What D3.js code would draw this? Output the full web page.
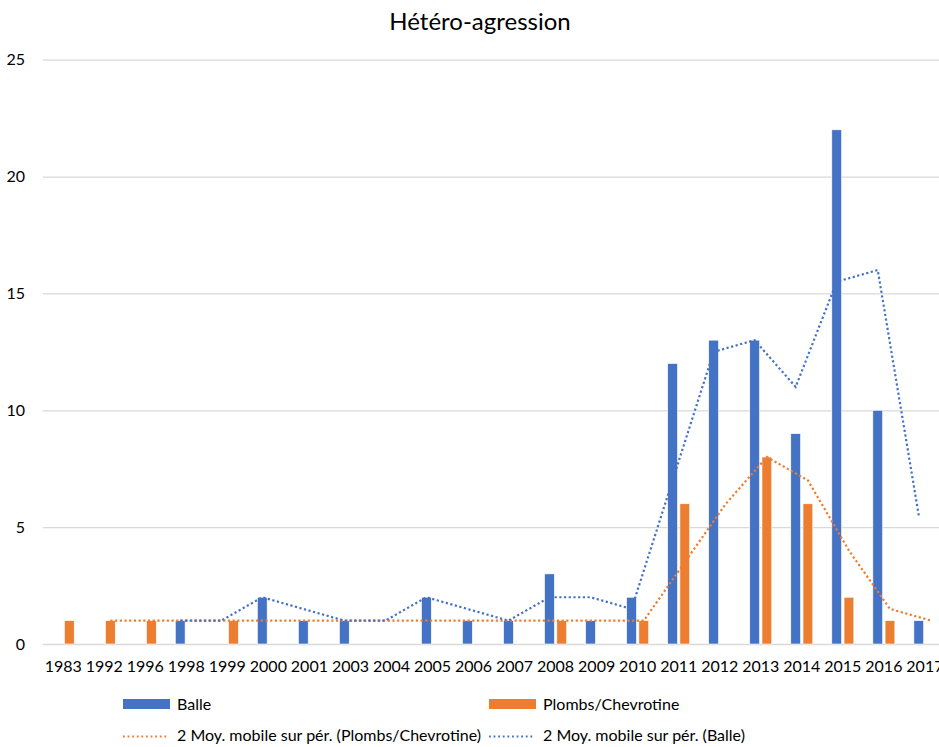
<!DOCTYPE html>
<html>
<head>
<meta charset="utf-8">
<script src="https://cdn.jsdelivr.net/npm/d3@7"></script>
<style>
  body { margin: 0; background: #fff; }
  svg { display: block; font-family: Lato, "Open Sans", sans-serif; }
</style>
</head>
<body>
<script>
// categories (years) as in the spreadsheet
var years = ["1983", "1992", "1996", "1998", "1999", "2000", "2001", "2003", "2004", "2005", "2006",
    "2007", "2008", "2009", "2010", "2011", "2012", "2013", "2014", "2015", "2016", "2017"];

// counts, null = empty cell
var balle = [null, null, null, 1, null, 2, 1, 1, null, 2, 1, 1, 3, 1, 2, 12, 13, 13, 9, 22, 10, 1];
var plombs = [1, 1, 1, null, 1, null, null, null, null, null, null, null, 1, null, 1, 6, null, 8, 6, 2, 1, null];

// 2-period moving average trendlines
var maBalle = [null, null, null, 1, 1, 2, 1.5, 1, 1, 2, 1.5, 1, 2, 2, 1.5, 7, 12.5, 13, 11, 15.5, 16, 5.5];
var maPlombs = [null, 1, 1, 1, 1, 1, 1, 1, 1, 1, 1, 1, 1, 1, 1, 3.5, 6, 8, 7, 4, 1.5, 1];

var yTicks = [0, 5, 10, 15, 20, 25];

var blue = "#4472C4", orange = "#ED7D31";

var width = 939, height = 747;
var svg = d3.select("body").append("svg").attr("width", width).attr("height", height);

var x = d3.scaleBand().domain(years).range([42.7, 945.4]).padding(0);
var x1 = d3.scaleBand().domain(["balle", "plombs"])
    .range([x.bandwidth() / 2 - 11, x.bandwidth() / 2 + 11]).paddingInner(0.2);
var y = d3.scaleLinear().domain([0, 25]).range([644, 59.7]);

// title
svg.append("text")
    .attr("x", 480).attr("y", 30)
    .attr("text-anchor", "middle")
    .attr("font-size", 24).attr("fill", "#000")
    .text("Hétéro-agression");

// gridlines + y labels
var yAxis = d3.axisLeft(y).tickValues(yTicks).tickSize(-(width - 42.7)).tickPadding(17.7);
var gy = svg.append("g").attr("transform", "translate(42.7,0)").call(yAxis);
gy.select(".domain").remove();
gy.selectAll(".tick line").attr("stroke", "#D9D9D9").attr("stroke-width", 1.3);
gy.selectAll(".tick text").attr("font-size", 16).attr("fill", "#000").attr("font-family", "Lato");

// x labels
var xAxis = d3.axisBottom(x).tickSize(0).tickPadding(17);
var gx = svg.append("g").attr("transform", "translate(0,644)").call(xAxis);
gx.select(".domain").remove();
gx.selectAll(".tick text").attr("font-size", 16).attr("fill", "#000").attr("font-family", "Lato");

// bars
var rows = years.map(function(yr, i) { return {year: yr, balle: balle[i], plombs: plombs[i]}; });

var groups = svg.append("g").selectAll("g").data(rows).enter().append("g")
    .attr("transform", function(d) { return "translate(" + x(d.year) + ",0)"; });

groups.selectAll("rect")
    .data(function(d) {
        return ["balle", "plombs"].filter(function(k) { return d[k] != null; })
            .map(function(k) { return {key: k, value: d[k]}; });
    })
    .enter().append("rect")
    .attr("x", function(d) { return x1(d.key); })
    .attr("y", function(d) { return y(d.value); })
    .attr("width", x1.bandwidth())
    .attr("height", function(d) { return y(0) - y(d.value); })
    .attr("fill", function(d) { return d.key == "balle" ? blue : orange; })
    .attr("stroke", "#fff").attr("stroke-width", 0.6);

// moving average lines
function maLine(key) {
    return d3.line()
        .defined(function(d) { return d != null; })
        .x(function(d, i) { return x(years[i]) + x1(key) + x1.bandwidth() / 2; })
        .y(function(d) { return y(d); });
}

svg.append("path").datum(maPlombs)
    .attr("d", maLine("plombs"))
    .attr("fill", "none").attr("stroke", orange)
    .attr("stroke-width", 2.2).attr("stroke-dasharray", "2.2,2.5");

svg.append("path").datum(maBalle)
    .attr("d", maLine("balle"))
    .attr("fill", "none").attr("stroke", blue)
    .attr("stroke-width", 2.2).attr("stroke-dasharray", "2.2,2.5");

// legend
var legend = [
    {label: "Balle", color: blue, type: "bar", x: 123, y: 704},
    {label: "Plombs/Chevrotine", color: orange, type: "bar", x: 489, y: 704},
    {label: "2 Moy. mobile sur pér. (Plombs/Chevrotine)", color: orange, type: "dot", x: 123, y: 736.5},
    {label: "2 Moy. mobile sur pér. (Balle)", color: blue, type: "dot", x: 489, y: 736.5}
];

var lg = svg.append("g").selectAll("g").data(legend).enter().append("g")
    .attr("transform", function(d) { return "translate(" + d.x + "," + d.y + ")"; });

lg.filter(function(d) { return d.type == "bar"; }).append("rect")
    .attr("x", 0).attr("y", -5).attr("width", 47).attr("height", 10)
    .attr("fill", function(d) { return d.color; });

lg.filter(function(d) { return d.type == "dot"; }).append("line")
    .attr("x1", 0).attr("x2", 45).attr("y1", 0).attr("y2", 0)
    .attr("stroke", function(d) { return d.color; })
    .attr("stroke-width", 1.8).attr("stroke-dasharray", "1.8,2.8");

lg.append("text")
    .attr("x", 54).attr("y", function(d) { return d.type == "bar" ? 5.5 : 4.5; })
    .attr("font-size", 16).attr("fill", "#000")
    .text(function(d) { return d.label; });
</script>
</body>
</html>
